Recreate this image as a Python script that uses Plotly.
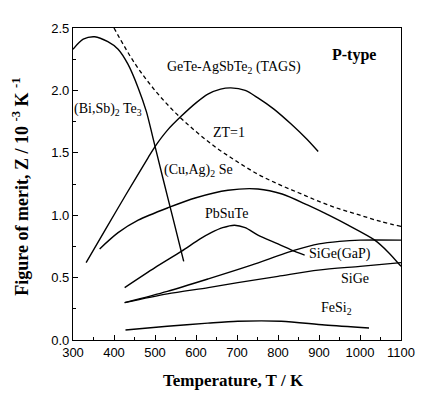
import plotly.graph_objects as go

# ---- data ----
bisb_T = [300, 325, 353, 385, 410, 434, 459, 479, 495, 519, 545, 570]
bisb_Z = [2.33, 2.41, 2.43, 2.39, 2.33, 2.21, 2.02, 1.83, 1.62, 1.30, 0.96, 0.63]

tags_T = [332, 380, 430, 483, 500, 530, 563, 600, 629, 660, 685, 720, 751, 790, 832, 870, 898]
tags_Z = [0.62, 0.89, 1.17, 1.46, 1.55, 1.68, 1.79, 1.90, 1.97, 2.01, 2.02, 2.00, 1.94, 1.85, 1.73, 1.61, 1.51]

zt_T = [400, 450, 500, 550, 600, 650, 700, 750, 800, 850, 900, 950, 1000, 1050, 1100]
zt_Z = [2.50, 2.22, 2.00, 1.82, 1.67, 1.54, 1.43, 1.33, 1.25, 1.18, 1.11, 1.05, 1.00, 0.95, 0.91]

cuag_T = [365, 410, 459, 532, 600, 678, 751, 810, 873, 930, 971, 1036, 1070, 1100]
cuag_Z = [0.73, 0.86, 0.96, 1.06, 1.14, 1.20, 1.21, 1.17, 1.08, 0.99, 0.92, 0.80, 0.70, 0.59]

pbsn_T = [426, 500, 564, 610, 637, 665, 694, 720, 751, 800, 841, 865]
pbsn_Z = [0.42, 0.58, 0.71, 0.81, 0.86, 0.90, 0.92, 0.90, 0.84, 0.77, 0.71, 0.68]

sigegap_T = [426, 530, 630, 735, 841, 900, 950, 1000, 1100]
sigegap_Z = [0.30, 0.39, 0.49, 0.60, 0.72, 0.77, 0.79, 0.80, 0.80]

sige_T = [426, 530, 630, 702, 800, 898, 1000, 1100]
sige_Z = [0.30, 0.37, 0.42, 0.46, 0.51, 0.56, 0.59, 0.62]

fesi_T = [428, 530, 629, 702, 808, 914, 1022]
fesi_Z = [0.08, 0.11, 0.135, 0.15, 0.15, 0.12, 0.096]

x_ticks = [300, 400, 500, 600, 700, 800, 900, 1000, 1100]
y_ticks = [0.0, 0.5, 1.0, 1.5, 2.0, 2.5]
y_tick_text = ["0.0", "0.5", "1.0", "1.5", "2.0", "2.5"]

labels = [
    ("GeTe-AgSbTe<sub>2</sub> (TAGS)", 692, 2.18),
    ("(Bi,Sb)<sub>2</sub> Te<sub>3</sub>", 385, 1.85),
    ("ZT=1", 680, 1.66),
    ("(Cu,Ag)<sub>2</sub> Se", 607, 1.36),
    ("PbSuTe", 675, 1.01),
    ("SiGe(GaP)", 950, 0.69),
    ("SiGe", 987, 0.49),
    ("FeSi<sub>2</sub>", 942, 0.25),
]

fig = go.Figure()
line = dict(color="black", width=1.4, shape="spline", smoothing=0.8)
for T, Z in [(bisb_T, bisb_Z), (tags_T, tags_Z), (cuag_T, cuag_Z), (pbsn_T, pbsn_Z),
             (sigegap_T, sigegap_Z), (sige_T, sige_Z), (fesi_T, fesi_Z)]:
    fig.add_trace(go.Scatter(x=T, y=Z, mode="lines", line=line, showlegend=False, hoverinfo="skip"))
fig.add_trace(go.Scatter(x=zt_T, y=zt_Z, mode="lines",
                         line=dict(color="black", width=1.3, dash="4px,3px", shape="spline"),
                         showlegend=False, hoverinfo="skip"))

serif = "Liberation Serif"
for txt, x, y in labels:
    fig.add_annotation(x=x, y=y, text=txt, showarrow=False,
                       font=dict(family=serif, size=14, color="black"))
fig.add_annotation(x=985, y=2.28, text="<b>P-type</b>", showarrow=False,
                   font=dict(family=serif, size=16, color="black"))

fig.add_annotation(xref="paper", yref="paper", x=0.49, y=-0.13, yanchor="middle",
                   text="<b>Temperature, T / K</b>", showarrow=False,
                   font=dict(family=serif, size=17, color="black"))
fig.add_annotation(xref="paper", yref="paper", x=-0.16, y=0.49, xanchor="center",
                   textangle=-90,
                   text="<b>Figure of merit, Z / 10 <sup>-3</sup> K <sup>-1</sup></b>", showarrow=False,
                   font=dict(family=serif, size=18, color="black"))

axis_common = dict(showgrid=False, zeroline=False, showline=True, linecolor="black", linewidth=1.3,
                   mirror=True, ticks="inside", ticklen=5, tickcolor="black", tickwidth=1,
                   tickfont=dict(family="Liberation Sans", size=13, color="black"))
fig.update_xaxes(range=[300, 1100], tickvals=x_ticks,
                 minor=dict(ticks="inside", ticklen=3, dtick=50, tickcolor="black"),
                 **axis_common)
fig.update_yaxes(range=[0, 2.5], tickvals=y_ticks, ticktext=y_tick_text,
                 minor=dict(ticks="inside", ticklen=3, dtick=0.25, tickcolor="black"),
                 **axis_common)

fig.update_layout(width=425, height=396, margin=dict(l=65, r=32, t=20, b=64),
                  plot_bgcolor="white", paper_bgcolor="white")
fig.write_html("out.html")
